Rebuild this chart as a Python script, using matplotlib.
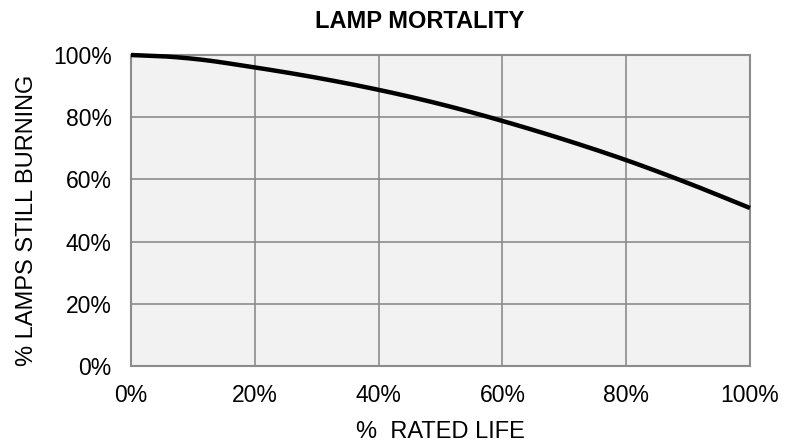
import matplotlib
matplotlib.use("Agg")
import matplotlib.pyplot as plt
import numpy as np
from matplotlib.ticker import FuncFormatter

rated_life = [0, 5, 10, 20, 30, 40, 50, 60, 70, 80, 90, 100]
still_burning = [100, 99.6, 98.8, 96.0, 92.7, 88.8, 84.2, 78.8, 72.8, 66.2, 58.8, 50.8]
x_ticks = [0, 20, 40, 60, 80, 100]
y_ticks = [0, 20, 40, 60, 80, 100]

plt.rcParams['font.family'] = ['Liberation Sans', 'DejaVu Sans']

W, H = 797, 443
fig = plt.figure(figsize=(W/100, H/100), dpi=100)
ax = fig.add_axes([131/W, 1 - 366/H, (750-131)/W, (366-55)/H])
ax.set_facecolor('#f2f2f2')

xs = np.array(rated_life, dtype=float)
ys = np.array(still_burning, dtype=float)
xf = np.linspace(0, 100, 300)

def pchip(x, y, xn):
    h = np.diff(x); d = np.diff(y) / h
    m = np.zeros_like(y)
    for k in range(1, len(x) - 1):
        if d[k-1] * d[k] > 0:
            w1 = 2*h[k] + h[k-1]; w2 = h[k] + 2*h[k-1]
            m[k] = (w1 + w2) / (w1 / d[k-1] + w2 / d[k])
    m[0] = d[0]; m[-1] = d[-1]
    out = np.empty_like(xn)
    for i, xv in enumerate(xn):
        k = min(np.searchsorted(x, xv, side='right') - 1, len(x) - 2)
        t = (xv - x[k]) / h[k]
        h00 = 2*t**3 - 3*t**2 + 1; h10 = t**3 - 2*t**2 + t
        h01 = -2*t**3 + 3*t**2; h11 = t**3 - t**2
        out[i] = h00*y[k] + h10*h[k]*m[k] + h01*y[k+1] + h11*h[k]*m[k+1]
    return out

yf = pchip(xs, ys, xf)
ax.plot(xf, yf, color='black', linewidth=3.2, solid_capstyle='butt', clip_on=False, zorder=3)

ax.set_xlim(0, 100)
ax.set_ylim(0, 100)
ax.set_xticks(x_ticks)
ax.set_yticks(y_ticks)
fmt = FuncFormatter(lambda v, p: f"{int(v)}%")
ax.xaxis.set_major_formatter(fmt)
ax.yaxis.set_major_formatter(fmt)
ax.grid(True, color='#8c8c8c', linewidth=1.2)
ax.set_axisbelow(True)
for s in ax.spines.values():
    s.set_color('#8c8c8c')
    s.set_linewidth(1.5)
ax.tick_params(length=0, labelsize=16.5, colors='black')
ax.tick_params(axis='x', pad=13)
ax.tick_params(axis='y', pad=14)

fig.text(420/W, 1 - 28/H, 'LAMP MORTALITY', fontsize=17, fontweight='bold',
         ha='center', va='baseline')
fig.text(440/W, 1 - 438/H, '%  RATED LIFE', fontsize=17, ha='center', va='baseline')
fig.text(33/W, 1 - 220.5/H, '% LAMPS STILL BURNING', fontsize=17, rotation=90,
         ha='center', va='baseline', rotation_mode='anchor')

fig.savefig('out.png', dpi=100)
